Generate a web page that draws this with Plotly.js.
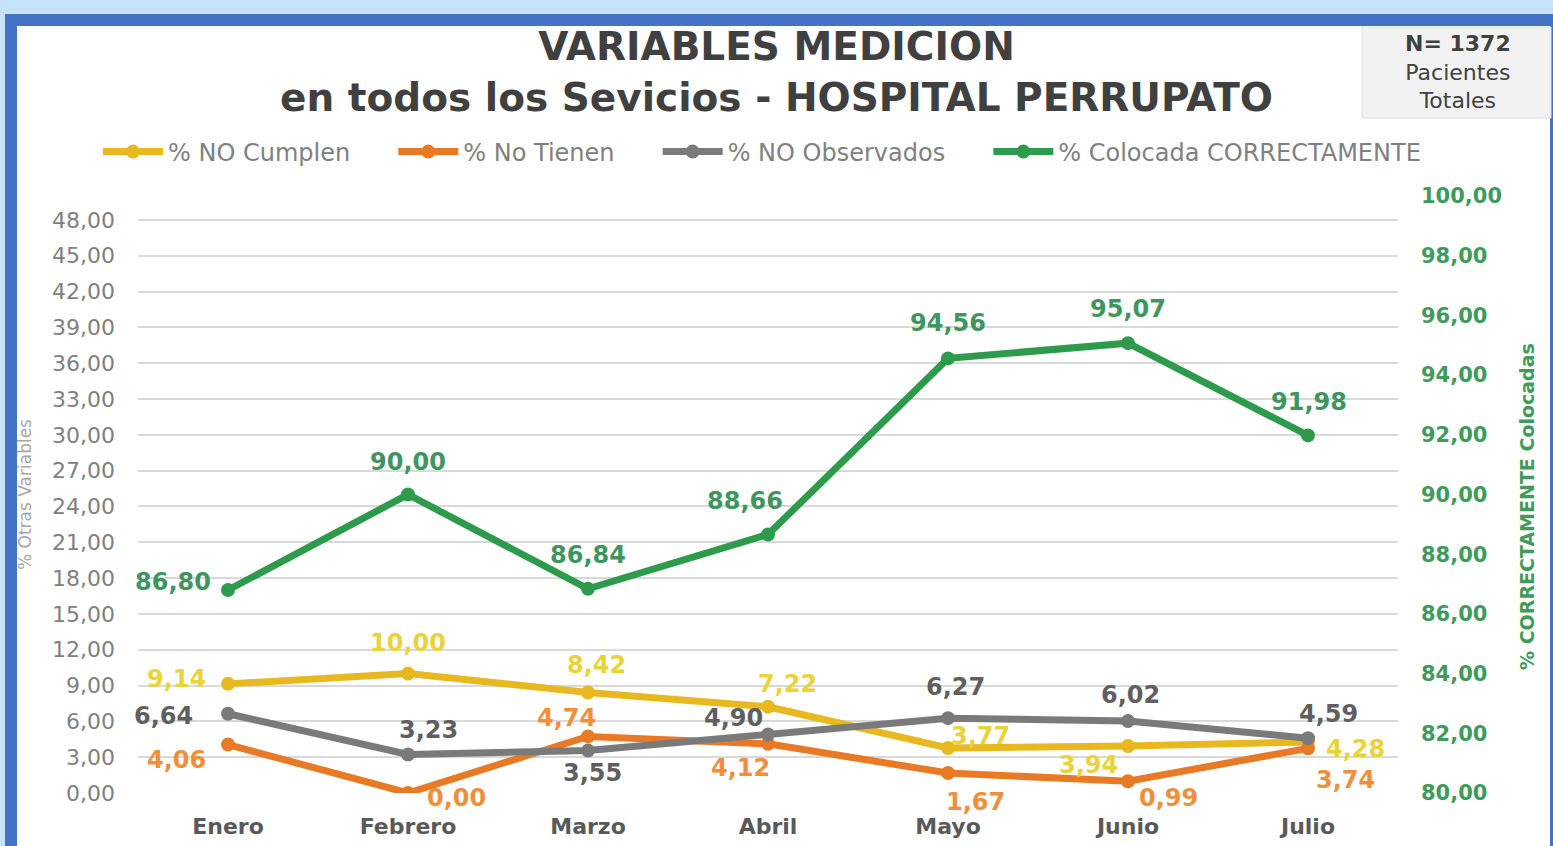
<!DOCTYPE html>
<html>
<head>
<meta charset="utf-8">
<script src="https://cdn.plot.ly/plotly-3.0.1.min.js"></script>
<style>html,body{margin:0;padding:0;background:#c6e2fb;}#chart{width:1553px;height:846px;}</style>
</head>
<body>
<div id="chart"></div>
<script>
// ---- Data ----
const months = ["Enero", "Febrero", "Marzo", "Abril", "Mayo", "Junio", "Julio"];
const noCumplen = [9.14, 10.00, 8.42, 7.22, 3.77, 3.94, 4.28];
const noTienen = [4.06, 0.00, 4.74, 4.12, 1.67, 0.99, 3.74];
const noObservados = [6.64, 3.23, 3.55, 4.90, 6.27, 6.02, 4.59];
const colocadaCorrectamente = [86.80, 90.00, 86.84, 88.66, 94.56, 95.07, 91.98];
const seriesNames = ["% NO Cumplen", "% No Tienen", "% NO Observados", "% Colocada CORRECTAMENTE"];
const leftTicks = [0, 3, 6, 9, 12, 15, 18, 21, 24, 27, 30, 33, 36, 39, 42, 45, 48];
const rightTicks = [80, 82, 84, 86, 88, 90, 92, 94, 96, 98, 100];

// ---- Layout helpers (pixel -> paper) ----
const W = 1553, H = 846;
const PL = 138, PR = 1398, PT = 196, PB = 793;
const px = v => (v - PL) / (PR - PL);
const py = v => (PB - v) / (PB - PT);

const FONT = "DejaVu Sans, Verdana, sans-serif";
const C = {
  yellow: "#e8b820", yellowLbl: "#ead23a",
  orange: "#e87a26", orangeLbl: "#ef8f3c",
  gray: "#7a7a7a", grayLbl: "#5f5f5f",
  green: "#2e9a4c", greenLbl: "#3f9560"
};
const PAD = "\u00a0\u00a0\u00a0\u00a0\u00a0";

function series(name, y, color, axis) {
  return {
    type: "scatter", mode: "lines+markers", name: name,
    x: months, y: y, yaxis: axis,
    line: {color: color, width: 7},
    marker: {color: color, size: 14, symbol: "circle"}
  };
}

const traces = [
  series(seriesNames[0] + PAD, noCumplen, C.yellow, "y"),
  series(seriesNames[1] + PAD, noTienen, C.orange, "y"),
  series(seriesNames[2] + PAD, noObservados, C.gray, "y"),
  series(seriesNames[3], colocadaCorrectamente, C.green, "y2")
];

// label offsets (pixels): [dx, dy up]
const offYellow = [[-52, 5], [0, 31], [8, 27], [19, 23], [32, 12], [-40, -19], [47, -7]];
const offOrange = [[-52, -15], [48, -5], [-22, 18], [-28, -24], [27, -29], [40, -17], [37, -32]];
const offGray = [[-65, -2], [20, 24], [4, -22], [-35, 16], [7, 31], [2, 26], [20, 24]];
const offGreen = [[-55, 8], [0, 33], [0, 34], [-23, 34], [0, 35], [0, 34], [1, 33]];

const fmt = v => v.toFixed(2).replace(".", ",");
const annotations = [];
function addLabels(vals, offs, color, yref) {
  vals.forEach((v, i) => {
    annotations.push({
      x: months[i], y: v, xref: "x", yref: yref, text: fmt(v), showarrow: false,
      xanchor: "center", yanchor: "middle",
      xshift: offs[i][0], yshift: offs[i][1],
      font: {family: FONT, size: 24, color: color, weight: "bold"}
    });
  });
}
addLabels(noCumplen, offYellow, C.yellowLbl, "y");
addLabels(noTienen, offOrange, C.orangeLbl, "y");
addLabels(noObservados, offGray, C.grayLbl, "y");
addLabels(colocadaCorrectamente, offGreen, C.greenLbl, "y2");

// axis titles
annotations.push({
  xref: "paper", yref: "paper", x: px(25), y: py(495), xanchor: "center", yanchor: "middle",
  text: "% Otras Variables", textangle: -90, showarrow: false,
  font: {family: FONT, size: 17, color: "#a6a6a6"}
});
annotations.push({
  xref: "paper", yref: "paper", x: px(1527), y: py(507), xanchor: "center", yanchor: "middle",
  text: "% CORRECTAMENTE Colocadas", textangle: -90, showarrow: false,
  font: {family: FONT, size: 19, color: "#3f9a5c", weight: "bold"}
});
// N box text
annotations.push({
  xref: "paper", yref: "paper", x: px(1458), y: py(72), xanchor: "center", yanchor: "middle",
  text: "<b>N= 1372</b><br>Pacientes<br>Totales", showarrow: false,
  font: {family: FONT, size: 22, color: "#404040"}
});

const shapes = [
  {type: "rect", xref: "paper", yref: "paper", layer: "below",
   x0: px(5), x1: px(1600), y0: py(900), y1: py(14), fillcolor: "#4472c4", line: {width: 0}},
  {type: "rect", xref: "paper", yref: "paper", layer: "below",
   x0: px(17), x1: px(1550), y0: py(900), y1: py(26), fillcolor: "#ffffff", line: {width: 0}},
  {type: "rect", xref: "paper", yref: "paper", layer: "below",
   x0: px(1362), x1: px(1551), y0: py(118), y1: py(27), fillcolor: "#f2f2f2",
   line: {width: 1, color: "#e0e0e0"}}
];

const layout = {
  width: W, height: H,
  margin: {l: PL, r: W - PR, t: PT, b: H - PB, pad: 0},
  paper_bgcolor: "#c6e2fb",
  plot_bgcolor: "rgba(0,0,0,0)",
  separators: ",.",
  font: {family: FONT},
  title: {
    text: "<b>VARIABLES MEDICION<br>en todos los Sevicios - HOSPITAL PERRUPATO</b>",
    font: {family: FONT, size: 39, color: "#404040"},
    x: 0.5, xanchor: "center", xref: "container",
    y: 1 - 60 / H, yanchor: "middle", yref: "container"
  },
  showlegend: true,
  legend: {
    orientation: "h", xref: "paper", yref: "paper",
    x: px(98), xanchor: "left", y: py(152), yanchor: "middle",
    font: {family: FONT, size: 24, color: "#808080"},
    bgcolor: "rgba(0,0,0,0)", itemwidth: 60, traceorder: "normal"
  },
  xaxis: {
    type: "category", range: [-0.5, 6.5], showgrid: false, zeroline: false, showline: false,
    ticks: "", ticklabelstandoff: 18,
    tickfont: {family: FONT, size: 22, color: "#595959", weight: "bold"}
  },
  yaxis: {
    range: [0, 50], tickvals: leftTicks, tickformat: ".2f",
    showgrid: true, gridcolor: "#d9d9d9", gridwidth: 2, zeroline: false, showline: false,
    ticks: "", ticklabelstandoff: 22,
    tickfont: {family: FONT, size: 22, color: "#808080"}
  },
  yaxis2: {
    overlaying: "y", side: "right", range: [80, 100], tickvals: rightTicks, tickformat: ".2f",
    showgrid: false, zeroline: false, showline: false, ticks: "", ticklabelstandoff: 22,
    tickfont: {family: FONT, size: 21, color: "#3f9a5c", weight: "bold"}
  },
  shapes: shapes,
  annotations: annotations
};

Plotly.newPlot("chart", traces, layout, {displayModeBar: false, responsive: false});
</script>
</body>
</html>
